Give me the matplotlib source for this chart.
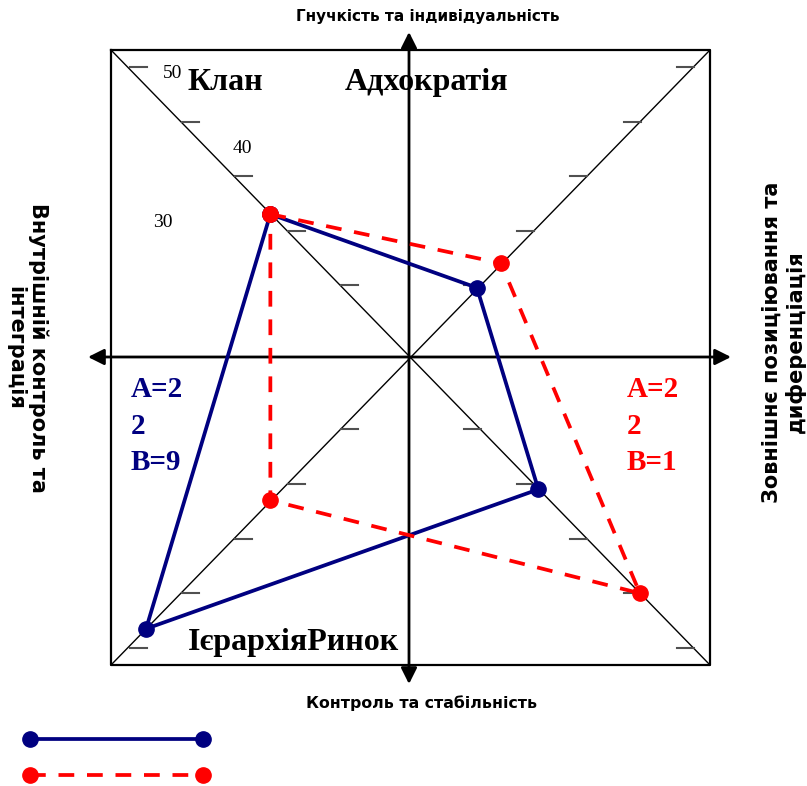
import matplotlib
matplotlib.use("Agg")
import matplotlib.pyplot as plt
import numpy as np

# ---- data ----
quadrants = ["Клан", "Адхократія", "Ринок", "Ієрархія"]
series_now = [23, 9.5, 21, 46.5]      # blue, solid
series_pref = [23, 14, 40, 23]        # red, dashed
scale_ticks = [10, 20, 30, 40, 50]
scale_labels = ["50", "40", "30"]
blue_text = ["A=2", "2", "B=9"]
red_text = ["A=2", "2", "B=1"]
top_label = "Гнучкість та індивідуальність"
bottom_label = "Контроль та стабільність"
left_label = "Внутрішній контроль та\nінтеграція"
right_label = "Зовнішнє позиціювання та\nдиференціація"

# ---- layout ----
W, H = 807, 786
fig = plt.figure(figsize=(W / 100, H / 100), dpi=100)
ax = fig.add_axes([0, 0, 1, 1])
ax.set_xlim(0, W)
ax.set_ylim(H, 0)
ax.axis("off")

L, R, T, B = 111, 710, 50, 665
cx, cy = 409, 357
corners = [(L, T), (R, T), (R, B), (L, B)]  # Clan, Adhocracy, Market, Hierarchy


def to_xy(k, v):
    f = 0.057 + 0.01775 * v
    x0, y0 = corners[k]
    return cx + f * (x0 - cx), cy + f * (y0 - cy)


# frame
ax.plot([L, R, R, L, L], [T, T, B, B, T], color="black", lw=1.6, zorder=2)
# diagonals
ax.plot([L, R], [T, B], color="black", lw=1.0, zorder=2)
ax.plot([L, R], [B, T], color="black", lw=1.0, zorder=2)

# tick marks along diagonals
for k in range(4):
    for v in scale_ticks:
        x, y = to_xy(k, v)
        if k in (0, 3):
            ax.plot([x + 2, x + 19], [y, y], color="#505050", lw=1.5, zorder=2)
        else:
            ax.plot([x - 16, x + 1], [y, y], color="#505050", lw=1.5, zorder=2)

# axes arrows
arr = dict(arrowstyle="<|-|>", lw=2.0, color="black", mutation_scale=24,
           shrinkA=0, shrinkB=0)
ax.annotate("", xy=(cx, 32), xytext=(cx, 684), arrowprops=arr, zorder=3)
ax.annotate("", xy=(88, cy), xytext=(731, cy), arrowprops=arr, zorder=3)

# series
def draw(vals, color, ls):
    pts = [to_xy(k, v) for k, v in enumerate(vals)]
    xs = [p[0] for p in pts] + [pts[0][0]]
    ys = [p[1] for p in pts] + [pts[0][1]]
    ax.plot(xs, ys, color=color, lw=2.7, linestyle=ls, marker="o",
            markersize=11, zorder=5)

draw(series_now, "#000080", "-")
draw(series_pref, "#FF0000", (0, (4.2, 3.4)))

# quadrant labels
serif = "Liberation Serif"
qfs = 23
ax.text(188, 90, quadrants[0], family=serif, weight="bold", fontsize=qfs,
        va="baseline", ha="left")
ax.text(345, 90, quadrants[1], family=serif, weight="bold", fontsize=qfs,
        va="baseline", ha="left")
ax.text(188, 650, quadrants[3] + quadrants[2], family=serif, weight="bold",
        fontsize=qfs, va="baseline", ha="left")

# scale labels
for (x, y), s in zip([(163, 78), (233, 153), (153, 227)], scale_labels):
    ax.text(x, y, s, family=serif, fontsize=14, va="baseline", ha="left")

# A/B texts
for i, s in enumerate(blue_text):
    ax.text(131, 397 + 36.5 * i, s, family=serif, weight="bold", fontsize=21,
            color="#000080", va="baseline", ha="left")
for i, s in enumerate(red_text):
    ax.text(627, 397 + 36.5 * i, s, family=serif, weight="bold", fontsize=21,
            color="#FF0000", va="baseline", ha="left")

# axis labels
sans = "DejaVu Sans"
ax.text(428, 16, top_label, family=sans, weight="bold", fontsize=11,
        ha="center", va="center")
ax.text(422, 703, bottom_label, family=sans, weight="bold", fontsize=11.3,
        ha="center", va="center")
ax.text(27, 348, left_label, family=sans, weight="bold", fontsize=15,
        ha="center", va="center", rotation=270, multialignment="center")
ax.text(784, 342, right_label, family=sans, weight="bold", fontsize=15,
        ha="center", va="center", rotation=90, multialignment="center")

# legend samples
ax.plot([30, 203], [739, 739], color="#000080", lw=2.7, marker="o",
        markersize=11)
ax.plot([30, 203], [775, 775], color="#FF0000", lw=2.7, marker="o",
        markersize=11, linestyle=(0, (4.2, 3.4)))

fig.savefig("out.png", dpi=100)
